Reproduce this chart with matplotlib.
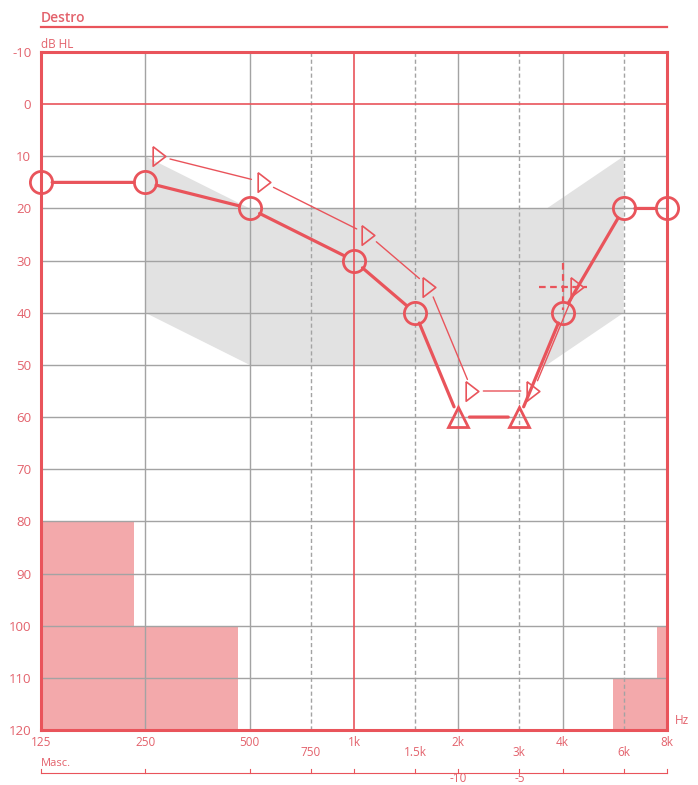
import matplotlib
matplotlib.use("Agg")
import matplotlib.pyplot as plt
import matplotlib.transforms as mtransforms

plt.rcParams['font.family'] = ['Open Sans', 'DejaVu Sans']
plt.rcParams['axes.unicode_minus'] = False

RED = '#e9545b'
TXT = '#e3626c'
GRID = '#a3a3a3'

# air conduction (right ear)
air_freqs = [125, 250, 500, 1000, 1500, 2000, 3000, 4000, 6000, 8000]
air_db = [15, 15, 20, 30, 40, 60, 60, 40, 20, 20]
air_marks = ['o', 'o', 'o', 'o', 'o', '^', '^', 'o', 'o', 'o']

# bone conduction
bone_freqs = [250, 500, 1000, 1500, 2000, 3000, 4000]
bone_db = [10, 15, 25, 35, 55, 55, 35]
cross_freq = 4000
cross_db = 35

# normal range (gray band)
band_f = [250, 500, 3600, 6000, 6000, 3600, 500, 250]
band_db = [10, 20, 20, 10, 40, 50, 50, 40]

# masking blocks
mask_lo = [125, 125, 5600, 7500]
mask_hi = [232, 463, 8000, 8000]
mask_top = [80, 100, 110, 100]

solid_f = [250, 500, 2000, 4000]
dash_f = [750, 1500, 3000, 6000]
row1_f = [125, 250, 500, 1000, 2000, 4000, 8000]
row1_lab = ['125', '250', '500', '1k', '2k', '4k', '8k']
row2_f = [750, 1500, 3000, 6000]
row2_lab = ['750', '1.5k', '3k', '6k']
masc_f = [2000, 3000]
masc_lab = ['-10', '-5']
all_f = [125, 250, 500, 750, 1000, 1500, 2000, 3000, 4000, 6000, 8000]

fig = plt.figure(figsize=(6.98, 7.85), dpi=100)
ax = fig.add_axes([41 / 698, 1 - 730 / 785, 626 / 698, 678 / 785])
ax.set_xscale('log', base=2)
ax.set_xlim(125, 8000)
ax.set_ylim(120, -10)

ax.fill(band_f, band_db, color='#e2e2e2', lw=0, zorder=0.5)
for lo, hi, top in zip(mask_lo, mask_hi, mask_top):
    ax.fill_between([lo, hi], top, 120, color='#f3a9ab', lw=0, zorder=0.6)

for y in range(10, 120, 10):
    ax.axhline(y, color=GRID, lw=1.0, zorder=1)
for f in solid_f:
    ax.axvline(f, color=GRID, lw=1.0, zorder=1)
for f in dash_f:
    ax.axvline(f, color=GRID, lw=1.0, ls=(0, (3, 2)), zorder=1)
ax.axhline(0, color=RED, lw=1.2, zorder=1.5)
ax.axvline(1000, color=RED, lw=1.2, zorder=1.5)

for s in ax.spines.values():
    s.set_color(RED)
    s.set_linewidth(2.2)

ax.set_xticks([])
ax.set_yticks(range(-10, 121, 10))
ax.tick_params(axis='y', length=0, pad=7, labelcolor=TXT, labelsize=9.5)
ax.minorticks_off()

# air conduction line with gaps at the markers
for i in range(len(air_freqs) - 1):
    ax.annotate('', xy=(air_freqs[i + 1], air_db[i + 1]), xytext=(air_freqs[i], air_db[i]),
                xycoords='data', textcoords='data',
                arrowprops=dict(arrowstyle='-', color=RED, lw=2.3, shrinkA=8, shrinkB=8),
                zorder=3)
for f, d, m in zip(air_freqs, air_db, air_marks):
    if m == 'o':
        ax.plot(f, d, 'o', ms=16, mfc='none', mec=RED, mew=2.0, zorder=4, clip_on=False)
    else:
        ax.plot(f, d, '^', ms=14, mfc='none', mec=RED, mew=2.0, zorder=4, clip_on=False)

# bone conduction, drawn shifted right of the frequency
bone_tri = [(-0.65, 1), (0.65, 0), (-0.65, -1), (-0.65, 1)]
boff = mtransforms.offset_copy(ax.transData, fig=fig, x=10, y=0, units='points')
for i in range(len(bone_freqs) - 1):
    ax.annotate('', xy=(bone_freqs[i + 1], bone_db[i + 1]), xytext=(bone_freqs[i], bone_db[i]),
                xycoords=boff, textcoords=boff,
                arrowprops=dict(arrowstyle='-', color=RED, lw=1.0, shrinkA=8, shrinkB=9),
                zorder=3)
ax.plot(bone_freqs, bone_db, marker=bone_tri, transform=boff, ls='none', ms=14,
        mfc='none', mec=RED, mew=1.2, zorder=4)

# dashed cross at 4k
ax.plot([cross_freq * 2 ** -0.23, cross_freq * 2 ** 0.23], [cross_db, cross_db],
        color=RED, lw=1.6, ls=(0, (3, 2)), zorder=3.5)
ax.plot([cross_freq, cross_freq], [cross_db - 4.5, cross_db + 4.5],
        color=RED, lw=1.6, ls=(0, (3, 2)), zorder=3.5)

# header
fig.text(41 / 698, 1 - 18 / 785, 'Destro', color=TXT, fontsize=10, fontweight='semibold',
         ha='left', va='center')
fig.add_artist(plt.Line2D([41 / 698, 667 / 698], [1 - 27 / 785, 1 - 27 / 785],
                          color=RED, lw=1.6))
fig.text(41 / 698, 1 - 45 / 785, 'dB HL', color=TXT, fontsize=8.5, ha='left', va='center')
fig.text(675 / 698, 1 - 721 / 785, 'Hz', color=TXT, fontsize=8.5, ha='left', va='center')

# frequency labels under the axis
bt = mtransforms.blended_transform_factory(ax.transData, fig.transFigure)
for f, lab in zip(row1_f, row1_lab):
    ax.text(f, 1 - 743 / 785, lab, transform=bt, color=TXT, fontsize=8.5, ha='center',
            va='center', clip_on=False)
for f, lab in zip(row2_f, row2_lab):
    ax.text(f, 1 - 753 / 785, lab, transform=bt, color=TXT, fontsize=8.5, ha='center',
            va='center', clip_on=False)

# masking row
fig.text(41 / 698, 1 - 763 / 785, 'Masc.', color=TXT, fontsize=8, ha='left', va='center')
ax.plot([125, 8000], [1 - 773 / 785] * 2, transform=bt, color=RED, lw=0.8, clip_on=False)
for f in all_f:
    ax.plot([f, f], [1 - 773 / 785, 1 - 769 / 785], transform=bt, color=RED, lw=0.8,
            clip_on=False)
for f, lab in zip(masc_f, masc_lab):
    ax.text(f, 1 - 779 / 785, lab, transform=bt, color=TXT, fontsize=8.5, ha='center',
            va='center', clip_on=False)

fig.savefig('out.png', dpi=100)
